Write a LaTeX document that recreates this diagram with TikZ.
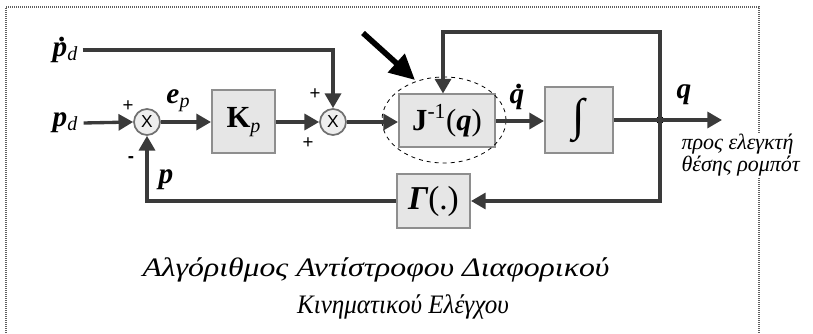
\documentclass[tikz,border=0pt]{standalone}
\usepackage{fontspec}
\setmainfont{Liberation Serif}
\newfontfamily\sansf{Liberation Sans}
\newfontfamily\capwide[FakeStretch=1.19]{Liberation Serif}
\newfontfamily\capnarrow[FakeStretch=0.94]{Liberation Serif}
\usetikzlibrary{arrows.meta,shapes.geometric}

\definecolor{wirec}{HTML}{3A3A3A}
\definecolor{boxfill}{HTML}{E6E6E6}
\definecolor{boxedge}{HTML}{8E8E8E}
\definecolor{sumfill}{HTML}{EEEEEE}
\definecolor{sumedge}{HTML}{707070}
\definecolor{framec}{HTML}{606060}

% bold italic symbol, lowered italic subscript, dotted symbol
\newcommand\bfit[1]{{\bfseries\itshape #1}}
\newcommand\lowsub[1]{\raisebox{-0.3ex}{\fontsize{15}{15}\selectfont\itshape #1}}
\newcommand\withdot[1]{\makebox[0pt][l]{\kern0.22em\raisebox{0.5em}{\bfseries .}}#1}

\begin{document}
\begin{tikzpicture}[x=0.75pt,y=-0.75pt,
  wire/.style={draw=wirec, line width=2.5pt},
  sig/.style={wire, -{Triangle[length=11pt,width=12pt]}},
  blockbox/.style={draw=boxedge, fill=boxfill, line width=1.5pt, inner sep=0pt,
    font=\fontsize{23}{25}\selectfont},
  sumnode/.style={circle, draw=sumedge, fill=sumfill, line width=1.3pt,
    minimum size=19.5pt, inner sep=0pt, font=\sansf\fontsize{13}{13}\selectfont},
  lbl/.style={font=\fontsize{22}{24}\selectfont, inner sep=0pt},
  sign/.style={font=\sansf\fontsize{14}{14}\selectfont, inner sep=0pt},
  pointer/.style={draw=black, line width=4.2pt, -{Triangle[length=19pt,width=18pt]}},
  captext/.style={inner sep=0pt},
]
\useasboundingbox (0,0) rectangle (813,334);

% dotted frame (its lower edge lies below the page)
\draw[framec, line width=0.8pt, dash pattern=on 0.75pt off 0.75pt]
  (6,345) -- (6,7) -- (759,7) -- (759,345);

% blocks and summing junctions
\node[sumnode] (sum1) at (147,122) {X};
\node[blockbox, minimum width=47.25pt, minimum height=47.25pt] (kp) at (243.5,122) {\textbf{K}\lowsub{p}};
\node[sumnode] (sum2) at (333,122) {X};
\node[blockbox, minimum width=72pt, minimum height=39.75pt] (jinv) at (447,121)
  {\textbf{J}\textsuperscript{-1}(\bfit{q})};
\node[ellipse, draw=black, dashed, line width=0.6pt, minimum width=93pt, minimum height=64.5pt] (ell) at (444,120) {};
\node[blockbox, minimum width=51pt, minimum height=49.5pt] (integ) at (579,120)
  {\fontsize{34}{34}\selectfont ∫};
\node[blockbox, minimum width=54.75pt, minimum height=40.5pt] (gam) at (433.5,201)
  {\fontsize{25}{27}\selectfont\bfit{Γ}(.)};
\fill[black] (660,120) circle (3pt) coordinate (junc);

% signal labels
\node[lbl] (pddot) at (65,50) {\bfit{\withdot{p}}\lowsub{d}};
\node[lbl] (pd) at (65,123) {\bfit{p}\lowsub{d}};
\node[lbl] (ep) at (178,101) {\bfit{e}\lowsub{p}};
\node[lbl] (pfb) at (166,180) {\bfit{p}};
\node[lbl] (qdot) at (517,97) {\bfit{\withdot{q}}};
\node[lbl] (qout) at (684,95) {\bfit{q}};

% signs at the junctions
\node[sign] at (128,106) {+};
\node[sign] at (131,160) {\bfseries -};
\node[sign] at (315,94) {+};
\node[sign] at (308,143) {+};

% connectors
\coordinate (out) at (722,120);
\coordinate (tr) at (660,32);
\coordinate (tl) at (443,32);
\draw[sig] (pddot.east) ++(5,0) -| (sum2.north);
\draw[sig] (pd.east) ++(6,0) -- (sum1.west);
\draw[sig] (sum1.east) -- (kp.west);
\draw[sig] (kp.east) -- (sum2.west);
\draw[sig] (sum2.east) -- (sum2.east -| jinv.west);
\draw[sig] (jinv.east) -- (jinv.east -| integ.west);
\draw[wire] (integ.east) -- (junc);
\draw[sig] (junc) -- (out);
\draw[sig] (junc) -- (tr) -- (tl) -- (tl |- jinv.north);
\draw[sig] (junc) |- (gam.east);
\draw[sig] (gam.west) -| (sum1.south);

% pointer to the inverse-Jacobian block
\coordinate (ptail) at (363,33);
\coordinate (phead) at (415,80);
\draw[pointer] (ptail) -- (phead);

% output note
\node[fill=white, inner sep=1pt, anchor=west, align=left,
  font=\fontsize{16.5}{16.5}\selectfont\itshape] (note) at (680,155)
  {προς ελεγκτή\\θέσης ρομπότ};

% caption
\node[captext, font=\capwide\fontsize{20}{24}\selectfont\itshape] (cap1) at (376,270)
  {Αλγόριθμος Αντίστροφου Διαφορικού};
\node[captext, font=\capnarrow\fontsize{20}{24}\selectfont\itshape] (cap2) at (403,307)
  {Κινηματικού Ελέγχου};
\end{tikzpicture}
\end{document}
